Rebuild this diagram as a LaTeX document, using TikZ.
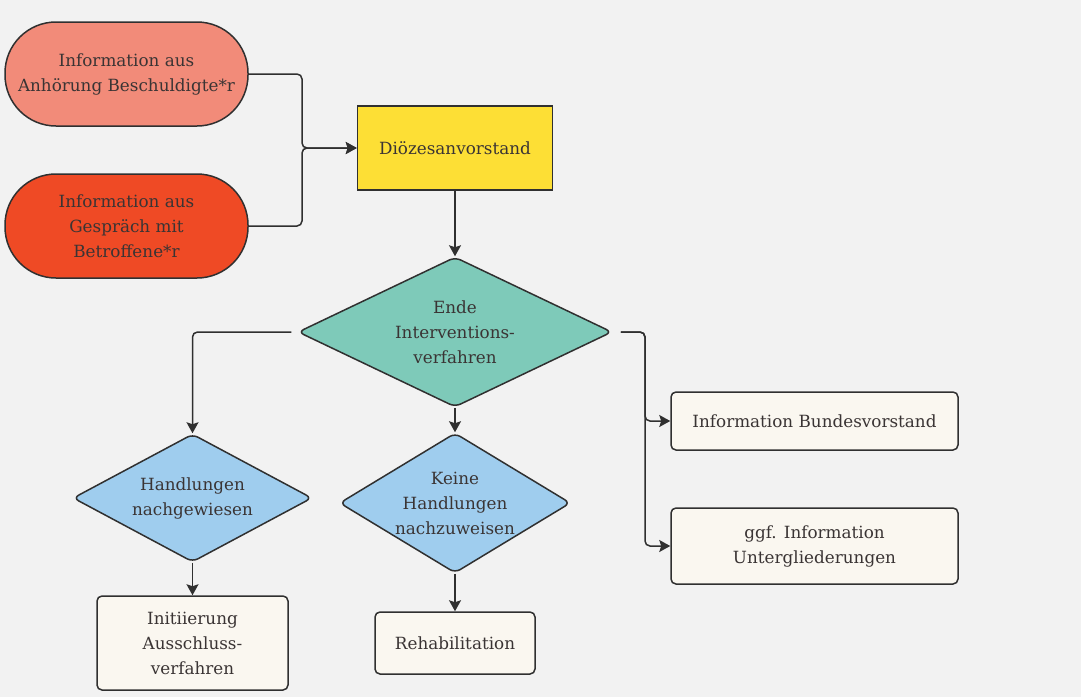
\documentclass[tikz,border=0pt]{standalone}
\usepackage{fontspec}
\setmainfont{DejaVu Serif}
\usetikzlibrary{shapes.geometric,arrows.meta,positioning,calc}
\definecolor{bgcol}{HTML}{F2F2F2}
\definecolor{linecol}{HTML}{303030}
\definecolor{txtcol}{HTML}{3A3434}
\definecolor{pinkcol}{HTML}{F28B79}
\definecolor{redcol}{HTML}{EF4A25}
\definecolor{yellowcol}{HTML}{FDDF35}
\definecolor{tealcol}{HTML}{7ECAB9}
\definecolor{bluecol}{HTML}{9FCDEE}
\definecolor{creamcol}{HTML}{FAF7F0}

\begin{document}
\begin{tikzpicture}[x=1pt,y=-1pt,
	every node/.style={font=\fontsize{16.8}{25}\selectfont, text=txtcol, align=center, draw=linecol, line width=1.5pt, inner sep=0pt},
	pill/.style={rectangle, rounded corners=51pt, minimum width=243pt, minimum height=104pt},
	decision/.style={diamond, rounded corners=6pt},
	result/.style={rectangle, rounded corners=5pt, fill=creamcol},
	flow/.style={draw=linecol, line width=1.5pt, -{Stealth[length=11pt,width=12pt,inset=2pt]}, rounded corners=5pt}]
	%Definitions - layout in pixels of the reference%
	%===========================================================
	\def \MidX {455} % centre column
	\def \LeftX {192.5} % left column
	\def \RightX {814.5} % right column
	\useasboundingbox (0,0) rectangle (1081,697);
	\fill[bgcol] (0,0) rectangle (1081,697); % background

	%Sources%
	%===========================================================
	\node[pill, fill=pinkcol] (anhoerung) at (126.5,74) {Information aus\\Anhörung Beschuldigte*r}; % hearing
	\node[pill, fill=redcol] (gespraech) at (126.5,226) {Information aus\\Gespräch mit\\Betroffene*r}; % talk
	\node[rectangle, fill=yellowcol, minimum width=195pt, minimum height=84pt] (dv) at (\MidX,148) {Diözesanvorstand}; % board

	%Decisions%
	%===========================================================
	\node[decision, fill=tealcol, aspect=2.09, minimum width=314pt, minimum height=150pt] (ende) at (\MidX,332) {Ende\\Interventions-\\verfahren};
	\node[decision, fill=bluecol, aspect=1.87, minimum width=239pt, minimum height=128pt] (nachgewiesen) at (\LeftX,498) {Handlungen\\nachgewiesen};
	\node[decision, fill=bluecol, aspect=1.65, minimum width=231pt, minimum height=140pt] (keine) at (\MidX,503) {Keine\\Handlungen\\nachzuweisen};

	%Results%
	%===========================================================
	\node[result, minimum width=191pt, minimum height=94pt] (ausschluss) at (\LeftX,643) {Initiierung\\Ausschluss-\\verfahren};
	\node[result, minimum width=160pt, minimum height=62pt] (reha) at (\MidX,643) {Rehabilitation};
	\node[result, minimum width=287pt, minimum height=58pt] (bundes) at (\RightX,421) {Information Bundesvorstand};
	\node[result, minimum width=287pt, minimum height=76pt] (unter) at (\RightX,546) {ggf. Information\\Untergliederungen};

	%Connectors%
	%===========================================================
	\coordinate (merge) at (302,148); % junction of both sources
	\coordinate (ltrunk) at (\LeftX,332); % left branch corner
	\coordinate (rtrunk) at (645,332); % right branch corner
	\draw[flow] (anhoerung.east) -| (merge) -- (dv.west);
	\draw[flow] (gespraech.east) -| (merge) -- (dv.west);
	\draw[flow] (dv.south) -- (ende.north);
	\draw[flow, shorten <=6pt] (ende.west) -- (ltrunk) -- (nachgewiesen.north);
	\draw[flow] (ende.south) -- (keine.north);
	\draw[flow, shorten <=8pt] (ende.east) -- (rtrunk) |- (bundes.west);
	\draw[flow, shorten <=8pt] (ende.east) -- (rtrunk) |- (unter.west);
	\draw[flow] (nachgewiesen.south) -- (ausschluss.north);
	\draw[flow] (keine.south) -- (reha.north);
\end{tikzpicture}
\end{document}
